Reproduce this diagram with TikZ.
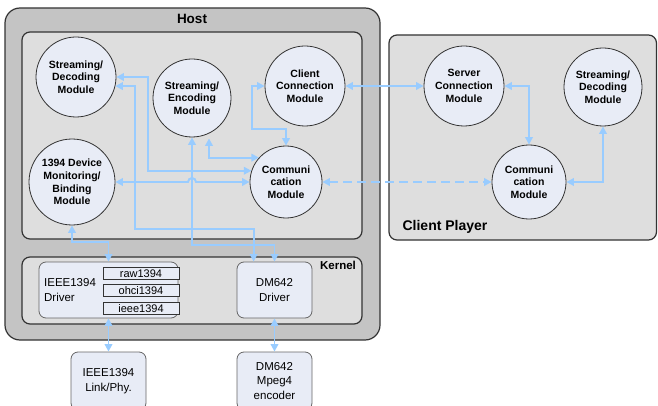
\documentclass[tikz,border=0pt]{standalone}
\usepackage{fontspec}
\setmainfont{Liberation Sans}
\usetikzlibrary{arrows.meta,positioning,calc}
\definecolor{hostgray}{HTML}{C4C4C4}
\definecolor{panelgray}{HTML}{DEDEDE}
\definecolor{modfill}{HTML}{E8ECF6}
\definecolor{linkblue}{HTML}{99CCFF}
\definecolor{edge}{HTML}{333333}

\begin{document}
\begin{tikzpicture}[x=1pt, y=-1pt, >={Triangle[length=7.5pt,width=7.5pt]},
  module/.style={circle, draw=edge, line width=0.8pt, fill=modfill, align=center, inner sep=0pt, font=\bfseries\fontsize{10.5}{12.7}\selectfont},
  drvbox/.style={draw=edge!75, rounded corners=7pt, fill=modfill, line width=0.8pt, minimum width=75pt, align=center, font=\fontsize{11.5}{14.5}\selectfont},
  subbox/.style={draw=edge, fill=modfill, line width=0.8pt, minimum width=76pt, minimum height=12pt, inner sep=0pt, font=\fontsize{11}{12}\selectfont},
  frame/.style={draw=edge, line width=1.2pt, rounded corners=8pt},
  link/.style={<->, draw=linkblue, line width=1.9pt},
  title/.style={font=\bfseries\fontsize{13.5}{16}\selectfont}]
\useasboundingbox (0,0) rectangle (658,406);
\draw[frame, fill=hostgray, rounded corners=15pt] (5,8) rectangle (380,340);
\draw[frame, fill=panelgray] (22,32) rectangle (362,239);
\draw[frame, fill=panelgray] (22,257) rectangle (362,324);
\draw[frame, fill=panelgray] (389,35) rectangle (656.5,240);
\node[title] (hostlabel) at (192,19) {Host};
\node[font=\bfseries\fontsize{11.5}{13}\selectfont] (kernellabel) at (338,265) {Kernel};
\node[font=\bfseries\fontsize{14}{16}\selectfont] (playerlabel) at (445,227) {Client Player};

\node[module, minimum size=80pt] (hdec) at (76,77) {Streaming/\\Decoding\\Module};
\node[module, minimum size=78pt] (senc) at (192,98) {Streaming/\\Encoding\\Module};
\node[module, minimum size=80pt] (cconn) at (305,86) {Client\\Connection\\Module};
\node[module, minimum size=86pt] (dev) at (72,182) {1394 Device\\Monitoring/\\Binding\\Module};
\node[module, minimum size=72pt] (hcomm) at (286,182) {Communi\\cation\\Module};
\node[module, minimum size=80pt] (sconn) at (464,86) {Server\\Connection\\Module};
\node[module, minimum size=78pt] (cdec) at (603,87) {Streaming/\\Decoding\\Module};
\node[module, minimum size=74pt] (ccomm) at (529,182) {Communi\\cation\\Module};

\node[drvbox, minimum width=139pt, minimum height=56pt] (idrv) at (108.5,290) {};
\node[right=2pt of idrv.west, align=left, font=\fontsize{11.5}{14.5}\selectfont] (idrvtext) {IEEE1394\\Driver};
\node[subbox] (raw) at (141,273.5) {raw1394};
\node[subbox, below=4.5pt of raw] (ohci) {ohci1394};
\node[subbox, below=4.5pt of ohci] (ieee) {ieee1394};
\node[drvbox, minimum height=56pt] (dmdrv) at (274.5,290) {DM642\\Driver};
\node[drvbox, minimum height=58pt] (phy) at (108.5,381) {IEEE1394\\Link/Phy.};
\node[drvbox, minimum height=58pt] (mpeg) at (274.5,381) {DM642\\Mpeg4\\encoder};

\draw[link] (cconn.east) -- (sconn.west);
\draw[link] (sconn.east) -| (ccomm.north);
\draw[link] (ccomm.east) -| (cdec.south);
\draw[link, dash pattern=on 9pt off 5pt] (hcomm.east) -- (ccomm.west);
\draw[link] (cconn.west) -| ++(-13,43) -| (hcomm.north);
\draw[link] ($(senc.south)+(17,1)$) |- (hcomm.138);
\draw[link] (hdec.east) -- ++(32,0) |- (hcomm.162);
\draw[link] (hdec.-13) -| ++(20,143) -| ($(dmdrv.north west)+(17,0)$);
\draw[link] (senc.south) -- ++(0,108) -| (dmdrv.north);
\draw[link] (dev.east) -- ($(senc.south |- dev.east)+(-4,0)$) arc[start angle=180, end angle=0, radius=4pt] -- (hcomm.west);
\draw[link] (dev.south) -- ++(0,17) -| (idrv.north);
\draw[link] (idrv.south) -- (phy.north);
\draw[link] (dmdrv.south) -- (mpeg.north);
\end{tikzpicture}
\end{document}
